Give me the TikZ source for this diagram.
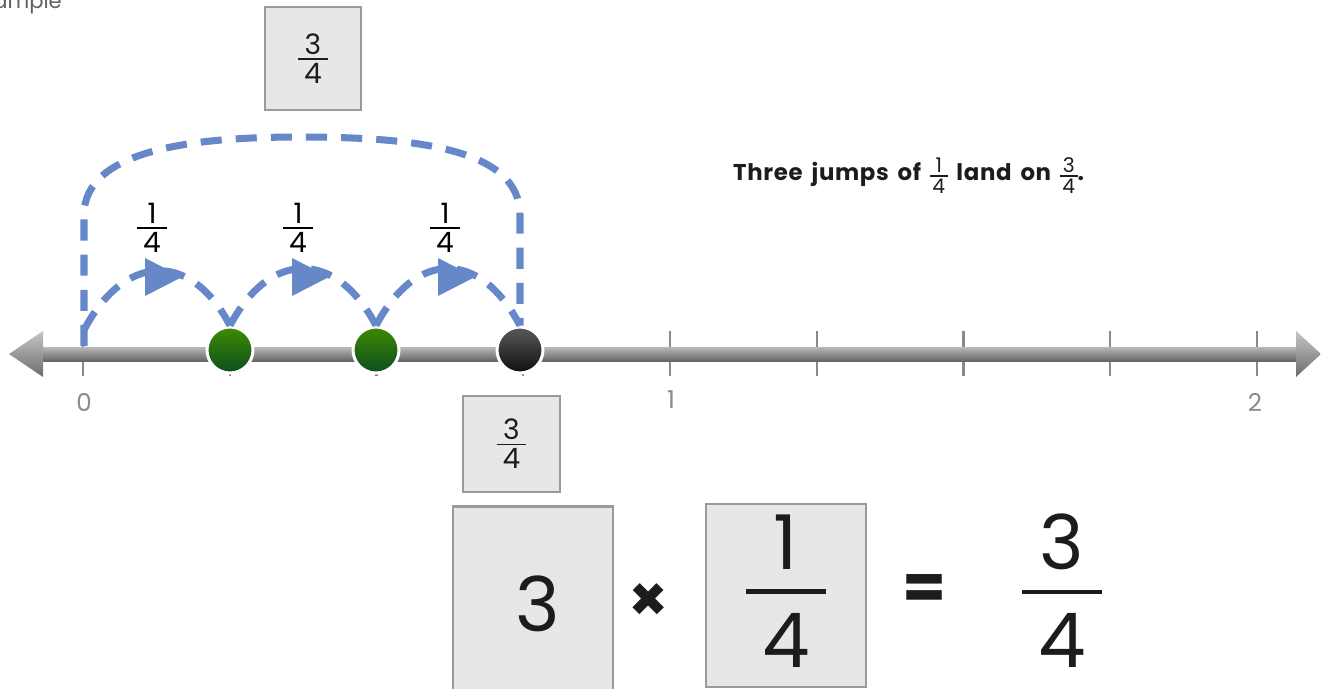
\documentclass[tikz,border=0pt]{standalone}
\usepackage{fontspec}
\setmainfont{Poppins}
\newfontfamily\sayfont[LetterSpace=3,WordSpace=1.6]{Poppins}
\usetikzlibrary{arrows.meta}
\definecolor{jumpblue}{RGB}{102,136,200}
\definecolor{boxfill}{RGB}{230,231,233}
\definecolor{boxline}{RGB}{153,154,156}
\definecolor{tickgray}{RGB}{138,138,138}
\definecolor{ink}{RGB}{28,28,28}
% #1 bar width, #2 bar thickness, #3 gap, #4 numerator, #5 denominator
\newcommand{\frc}[5]{$\vcenter{\offinterlineskip\halign{\hfil##\hfil\cr #4\cr\noalign{\kern#3}\rule{#1}{#2}\cr\noalign{\kern#3}#5\cr}}$}
\newcommand{\smallfr}[2]{{\fontsize{16}{18}\selectfont\frc{17pt}{0.9pt}{2pt}{#1}{#2}}}
\newcommand{\textfr}[2]{{\mdseries\fontsize{11.5}{13}\selectfont\frc{10pt}{0.8pt}{1.3pt}{#1}{#2}}}
\newcommand{\bigfr}[2]{{\fontsize{43}{48}\selectfont\frc{46pt}{2.8pt}{11pt}{#1}{#2}}}
\begin{document}
\begin{tikzpicture}[x=0.02cm,y=-0.02cm,
  jump/.style={jumpblue,line width=4pt,dash pattern=on 12pt off 8pt},
  numlab/.style={text=tickgray,font=\fontsize{14}{16}\selectfont},
  fracbox/.style={draw=boxline,fill=boxfill,line width=1.5pt,inner sep=0pt,text=ink},
  dot/.style={circle,draw=white,line width=1.7pt,minimum size=0.92cm,inner sep=0pt},
  greendot/.style={dot,top color={rgb,255:red,62;green,138;blue,4},bottom color={rgb,255:red,12;green,78;blue,30}},
  blackdot/.style={dot,top color={rgb,255:red,90;green,90;blue,90},bottom color={rgb,255:red,15;green,15;blue,15}},
  bigsign/.style={text=ink,font=\fontsize{36}{40}\selectfont\bfseries}]
\useasboundingbox (0,0) rectangle (1321,689);

\node[anchor=base east,text=gray!75!black,font=\fontsize{12}{14}\selectfont] (title) at (68,9) {Example};

% ticks
\foreach \k in {0,...,8}
  \draw[tickgray,line width=1.2pt] (83+146.75*\k,331) -- (83+146.75*\k,376);

% the line and its arrowheads
\shade[top color=gray!55,bottom color=gray!80!black] (40,347) rectangle (1298,361);
\shade[top color=gray!45,bottom color=gray!85!black] (43,331) -- (9,354) -- (43,377) -- cycle;
\shade[top color=gray!45,bottom color=gray!85!black] (1296,331) -- (1321,354) -- (1296,377) -- cycle;

\node[numlab] (n0) at (84,402) {0};
\node[numlab] (n1) at (671,400) {1};
\node[numlab] (n2) at (1255,402) {2};

\coordinate (zero) at (84,330);
\coordinate (zerob) at (84,346);
\node[greendot] (d1) at (230,350) {};
\node[greendot] (d2) at (376,350) {};
\node[blackdot] (d3) at (520,350) {};

% three jumps
\draw[jump] (zero) .. controls +(40,-76) and +(-40,-76) .. (d1.north);
\draw[jump] (d1.north) .. controls +(40,-76) and +(-40,-76) .. (d2.north);
\draw[jump] (d2.north) .. controls +(40,-76) and +(-40,-76) .. (d3.north);
\foreach \x in {145,292,438}
  \fill[jumpblue] (\x,258) -- (\x+37,277) -- (\x,296) -- cycle;
\node (j1) at (152,228) {\smallfr{1}{4}};
\node (j2) at (298,228) {\smallfr{1}{4}};
\node (j3) at (445,228) {\smallfr{1}{4}};

% one big jump
\draw[jump] (zerob) -- (84,215) .. controls (84,148) and (200,137) .. (300,137)
  .. controls (420,137) and (520,150) .. (520,215) -- (d3.north);

\node[fracbox,minimum width=1.92cm,minimum height=2.06cm] (topbox) at (313,58.5) {\smallfr{3}{4}};
\node[fracbox,minimum width=1.94cm,minimum height=1.92cm] (lowbox) at (511.5,444) {\smallfr{3}{4}};

\node[anchor=base west,text=ink,font=\fontsize{13}{15}\sayfont\bfseries] (say) at (727,181)
  {Three jumps of \textfr{1}{4} land on \textfr{3}{4}.};

% the equation
\node[fracbox,minimum width=3.2cm,minimum height=3.9cm,font=\fontsize{43}{48}\selectfont] (three) at (533,604) {\kern5.6pt3};
\node[bigsign] (times) at (649,603) {×};
\node[fracbox,minimum width=3.2cm,minimum height=3.66cm] (quarter) at (786,595.5) {};
\node[text=ink] (quarterfr) at (786,591) {\bigfr{1}{4}};
\node[bigsign] (eq) at (924,592) {=};
\node[text=ink] (result) at (1062,591) {\bigfr{3}{4}};
\end{tikzpicture}
\end{document}
